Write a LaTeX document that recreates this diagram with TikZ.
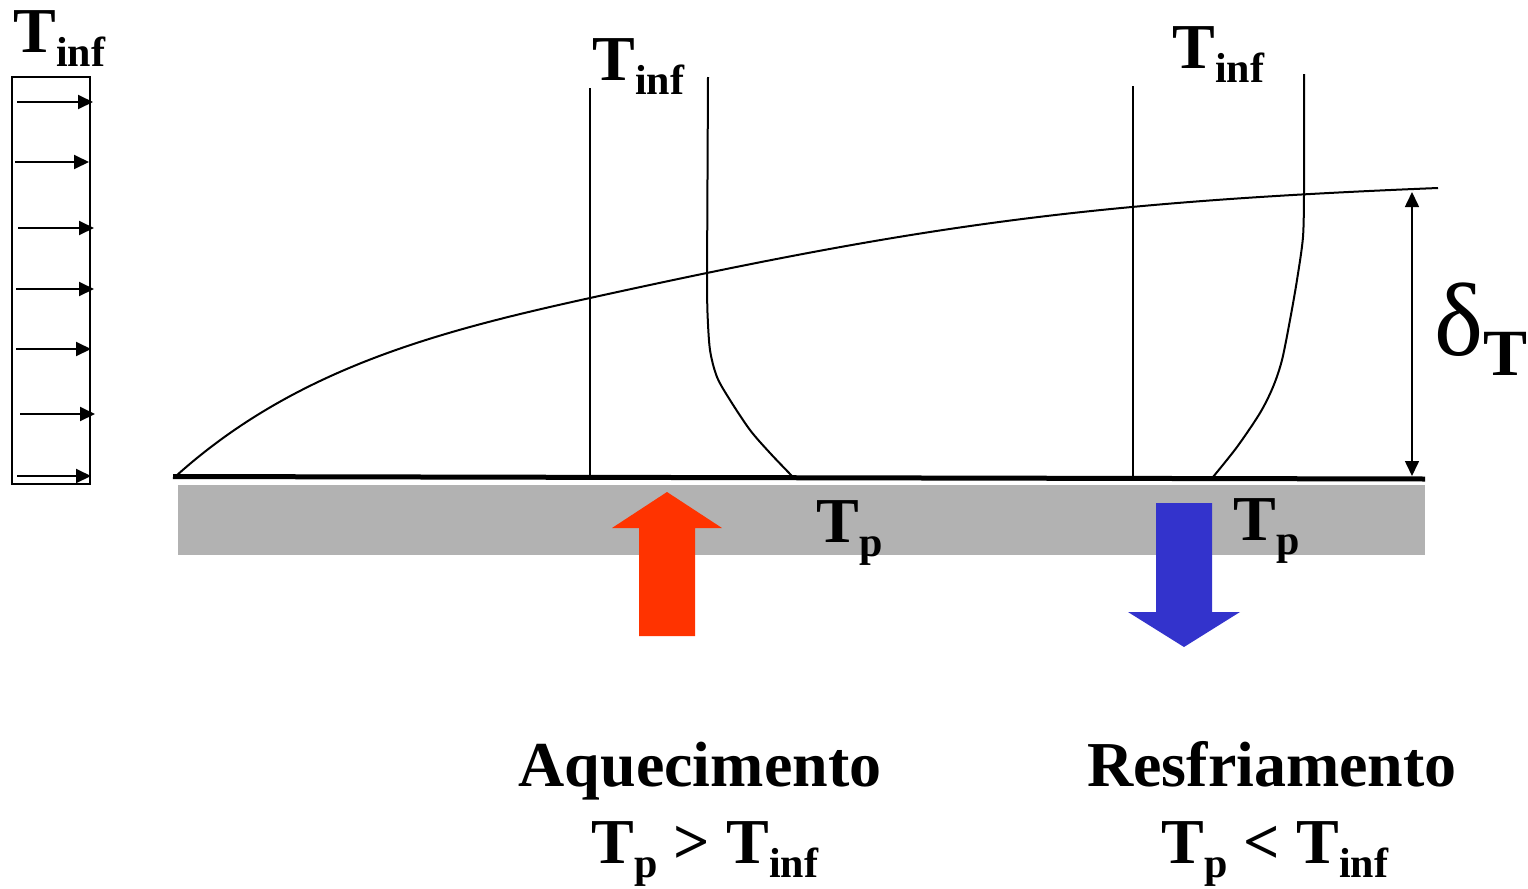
\documentclass[tikz,border=0pt]{standalone}
\usepackage{fontspec}
\setmainfont{Liberation Serif}
\usetikzlibrary{arrows.meta,positioning,calc}
\definecolor{heatred}{HTML}{FF3300}
\definecolor{coolblue}{HTML}{3333CC}
\definecolor{wallgray}{HTML}{B2B2B2}
\newcommand{\lo}[1]{\raisebox{-7pt}{\fontsize{21}{21}\selectfont #1}}

\begin{document}
\begin{tikzpicture}[
    x=0.5pt, y=-0.5pt,
    every node/.style={font=\fontsize{32}{36}\selectfont\bfseries, inner sep=0pt},
    lbl/.style={anchor=base west},
    capline/.style={anchor=base},
    prof/.style={line width=1pt},
    flow/.style={-{Triangle[length=7.5pt,width=7pt]}, line width=1pt},
    dim/.style={{Triangle[length=7.5pt,width=7pt]}-{Triangle[length=7.5pt,width=7pt]}, line width=0.8pt},
  ]
  \useasboundingbox (0,0) rectangle (1528,889);
  \draw[prof] (12,77) rectangle (90,484);
  \draw[flow] (17,102) -- (93,102);
  \draw[flow] (15,162) -- (89,162);
  \draw[flow] (18,228) -- (94,228);
  \draw[flow] (16,289) -- (94,289);
  \draw[flow] (16,349) -- (91,349);
  \draw[flow] (20,414) -- (95,414);
  \draw[flow] (17,476) -- (91,476);
  \node[lbl] (tinf0) at (13,52) {T\lo{inf}};
  \fill[wallgray] (178,485) rectangle (1425,555);
  \draw[line width=2.5pt] (173,476.5) -- (1425,479);
  \draw[prof] (176,476) .. controls (296,368) and (440,331) .. (590,298)
    .. controls (920,225.4) and (1088,202) .. (1438,188);
  \draw[prof] (590,88) -- (590,476);
  \draw[prof] (1133,86) -- (1133,477);
  \draw[prof] (708,77) -- plot[smooth] coordinates {(707,280) (707.5,313)
    (710,350) (717,377) (730,400) (750,430) (770,453) (792,476)};
  \draw[prof] (1304,74) -- plot[smooth] coordinates {(1304,193) (1303,237)
    (1297,280) (1290,320) (1282,360) (1273,387) (1260,413) (1237,447) (1213,477)};
  \coordinate (bltop) at (1412,192);
  \coordinate (blbot) at (1412,476);
  \draw[dim] (bltop) -- (blbot);
  \node[lbl, font=\fontsize{52}{56}\selectfont] (delta) at (1434,355)
    {δ\raisebox{-10pt}{\fontsize{33}{36}\selectfont\bfseries T}};
  \node[lbl] (tinf1) at (592,80) {T\lo{inf}};
  \node[lbl] (tinf2) at (1172,68) {T\lo{inf}};
  \fill[heatred] (639,636) -- (639,528) -- (612,528) -- (667,492) -- (722,528)
    -- (695,528) -- (695,636) -- cycle;
  \fill[coolblue] (1156,503) -- (1212,503) -- (1212,612) -- (1240,612)
    -- (1184,647) -- (1128,612) -- (1156,612) -- cycle;
  \node[lbl] (tp1) at (816,542) {T\lo{p}};
  \node[lbl] (tp2) at (1233,540) {T\lo{p}};
  \node[capline] (heat) at (700,786) {Aquecimento};
  \node[capline] (heatcond) at (705,863) {T\lo{p} > T\lo{inf}};
  \node[capline] (cool) at (1272,786) {Resfriamento};
  \node[capline] (coolcond) at (1275,863) {T\lo{p} < T\lo{inf}};
\end{tikzpicture}
\end{document}
